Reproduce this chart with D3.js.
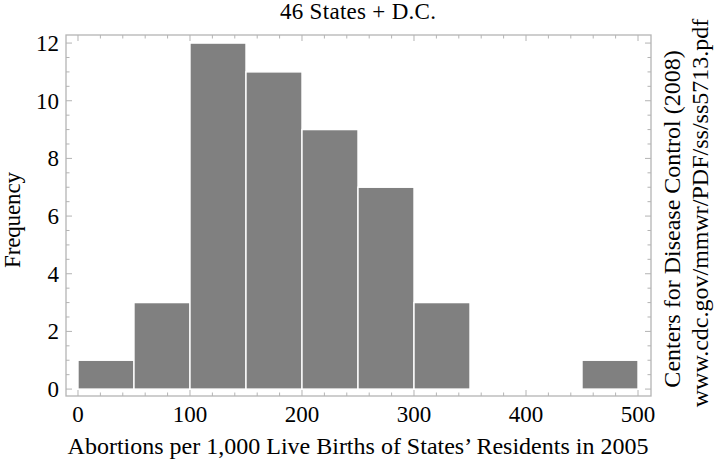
<!DOCTYPE html>
<html><head><meta charset="utf-8">
<script src="https://cdn.jsdelivr.net/npm/d3@7"></script>
<style>body{margin:0;background:#fff}svg{display:block}text{font-family:"Liberation Serif","Times New Roman",serif;fill:#000}</style>
</head><body><svg id="c" width="720" height="464"></svg>
<script>
const binStarts = [0,50,100,150,200,250,300,350,400,450];
const binWidth = 50;
const counts = [1,3,12,11,9,7,3,0,0,1];
const xTicks = [0,100,200,300,400,500];
const yTicks = [0,2,4,6,8,10,12];
const title = "46 States + D.C.";
const xLabel = "Abortions per 1,000 Live Births of States\u2019 Residents in 2005";
const yLabel = "Frequency";
const source1 = "Centers for Disease Control (2008)";
const source2 = "www.cdc.gov/mmwr/PDF/ss/ss5713.pdf";

const svg = d3.select("#c");
const L=66,R=651,T=35,B=396;
const x = d3.scaleLinear().domain([-10.7,511.6]).range([L,R]);
const y = d3.scaleLinear().domain([-0.24,12.28]).range([B,T]);
const frameCol = "#b4b4b4";

// bars
svg.append("g").selectAll("rect").data(binStarts.map((s,i)=>({s,c:counts[i]})).filter(d=>d.c>0))
 .join("rect")
 .attr("x",d=>x(d.s)).attr("width",d=>x(d.s+binWidth)-x(d.s))
 .attr("y",d=>y(d.c)).attr("height",d=>y(0)-y(d.c))
 .attr("fill","#808080").attr("stroke","#fff").attr("stroke-width",1.4);

// frame
svg.append("rect").attr("x",L).attr("y",T).attr("width",R-L).attr("height",B-T)
 .attr("fill","none").attr("stroke",frameCol).attr("stroke-width",1.3);

const tg = svg.append("g").attr("stroke",frameCol).attr("stroke-width",1);
const xMinor = d3.range(0,501,20);
xMinor.forEach(v=>{
  const major = v%100===0, len = major?6:3.5;
  tg.append("line").attr("x1",x(v)).attr("x2",x(v)).attr("y1",B).attr("y2",B-len);
  tg.append("line").attr("x1",x(v)).attr("x2",x(v)).attr("y1",T).attr("y2",T+len);
});
const yMinor = d3.range(0,12.01,0.5);
yMinor.forEach(v=>{
  const major = Math.abs(v%2)<1e-9, len = major?6:3.5;
  tg.append("line").attr("y1",y(v)).attr("y2",y(v)).attr("x1",L).attr("x2",L+len);
  tg.append("line").attr("y1",y(v)).attr("y2",y(v)).attr("x1",R).attr("x2",R-len);
});

// tick labels
svg.append("g").selectAll("text").data(xTicks).join("text")
 .attr("x",d=>x(d)).attr("y",422).attr("text-anchor","middle").attr("font-size",23).text(d=>d);
svg.append("g").selectAll("text").data(yTicks).join("text")
 .attr("x",59).attr("y",d=>y(d)+8).attr("text-anchor","end").attr("font-size",23).text(d=>d);

svg.append("text").attr("x",358).attr("y",19).attr("text-anchor","middle").attr("font-size",23)
 .attr("textLength",156).attr("lengthAdjust","spacing").text(title);
svg.append("text").attr("x",358).attr("y",454).attr("text-anchor","middle").attr("font-size",24).text(xLabel);
svg.append("text").attr("transform",`translate(20,220) rotate(-90)`).attr("text-anchor","middle").attr("font-size",23)
 .attr("textLength",96).attr("lengthAdjust","spacing").text(yLabel);
svg.append("text").attr("transform",`translate(680,219) rotate(-90)`).attr("text-anchor","middle").attr("font-size",24).text(source1);
svg.append("text").attr("transform",`translate(708,213) rotate(-90)`).attr("text-anchor","middle").attr("font-size",24).text(source2);
</script></body></html>
